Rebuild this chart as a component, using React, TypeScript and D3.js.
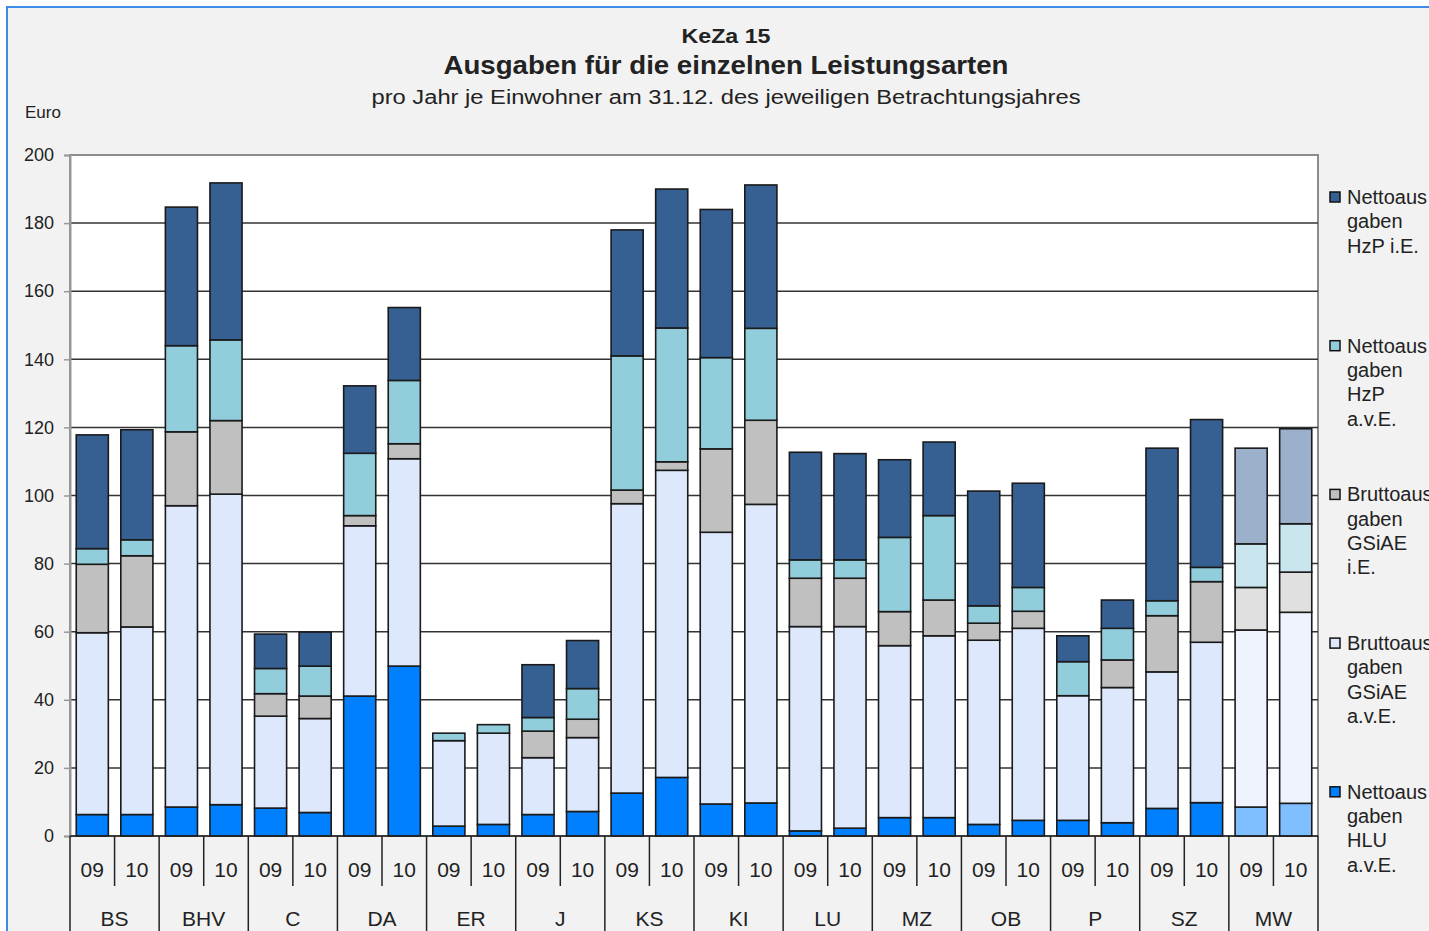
import React, { useEffect, useRef } from 'react';
import * as d3 from 'd3';

const groups = ['BS', 'BHV', 'C', 'DA', 'ER', 'J', 'KS', 'KI', 'LU', 'MZ', 'OB', 'P', 'SZ', 'MW'];
const years = ['09', '10'];

// one value per bar: BS09, BS10, BHV09, BHV10, ...
const hluAve = [6.3, 6.3, 8.5, 9.2, 8.2, 6.9, 41.1, 49.9, 2.9, 3.4, 6.3, 7.2, 12.6, 17.2, 9.4, 9.7, 1.5, 2.3, 5.4, 5.4, 3.4, 4.6, 4.6, 3.9, 8.1, 9.8, 8.5, 9.6];
const gsiaeAve = [53.4, 55.1, 88.5, 91.2, 27, 27.6, 50, 60.9, 25.1, 26.8, 16.7, 21.7, 85, 90.2, 79.8, 87.7, 60, 59.2, 50.5, 53.4, 54.1, 56.4, 36.6, 39.7, 40.1, 47.1, 52, 56.1];
const gsiaeIe = [20.1, 20.9, 21.7, 21.6, 6.6, 6.6, 3, 4.4, 0, 0, 7.8, 5.4, 4, 2.5, 24.5, 24.7, 14.2, 14.2, 10, 10.5, 5, 5, 0, 8.1, 16.5, 17.8, 12.5, 11.8];
const hzpAve = [4.6, 4.7, 25.3, 23.7, 7.4, 8.8, 18.3, 18.6, 2.2, 2.5, 4, 9, 39.4, 39.3, 26.8, 27, 5.4, 5.4, 21.8, 24.8, 5.1, 7, 10, 9.3, 4.4, 4.2, 12.8, 14.2];
const hzpIe = [33.4, 32.3, 40.7, 46.1, 10.1, 10, 19.8, 21.4, 0, 0, 15.5, 14.1, 37, 40.8, 43.5, 42.1, 31.6, 31.2, 22.8, 21.6, 33.7, 30.6, 7.6, 8.3, 44.8, 43.4, 28.1, 27.9];

const yTicks = [0, 20, 40, 60, 80, 100, 120, 140, 160, 180, 200];

const seriesKeys = ['hluAve', 'gsiaeAve', 'gsiaeIe', 'hzpAve', 'hzpIe'];
const colors = ['#0080ff', '#dde8fc', '#c0c0c0', '#92cddc', '#366092'];
const colorsMW = ['#80bfff', '#eef3fd', '#e0e0e0', '#c9e6ee', '#9bb0cb'];

const legendItems = [
  { color: '#366092', lines: ['Nettoaus', 'gaben', 'HzP i.E.'] },
  { color: '#92cddc', lines: ['Nettoaus', 'gaben', 'HzP', 'a.v.E.'] },
  { color: '#c0c0c0', lines: ['Bruttoaus', 'gaben', 'GSiAE', 'i.E.'] },
  { color: '#dde8fc', lines: ['Bruttoaus', 'gaben', 'GSiAE', 'a.v.E.'] },
  { color: '#0080ff', lines: ['Nettoaus', 'gaben', 'HLU', 'a.v.E.'] },
];

const FONT = '"Liberation Sans", Arial, sans-serif';

const App = () => {
  const svgRef = useRef<SVGSVGElement>(null);

  useEffect(() => {
    const svg = d3.select(svgRef.current);
    svg.selectAll('*').remove();

    const width = 1429;
    const height = 931;
    const margin = { top: 155, right: 111, bottom: 95, left: 70 };
    const x0 = margin.left;
    const x1 = width - margin.right;
    const yBottom = height - margin.bottom;

    // chart frame
    svg.append('rect')
      .attr('x', 7).attr('y', 7)
      .attr('width', 1500).attr('height', 1000)
      .attr('fill', '#f2f2f2')
      .attr('stroke', '#3c8ce7')
      .attr('stroke-width', 2);

    // titles
    const titles = [
      { text: 'KeZa 15', y: 43, size: 20, weight: 'bold', len: 89 },
      { text: 'Ausgaben für die einzelnen Leistungsarten', y: 74, size: 25, weight: 'bold', len: 565 },
      { text: 'pro Jahr je Einwohner am 31.12. des jeweiligen Betrachtungsjahres', y: 104, size: 20, weight: 'normal', len: 709 },
    ];
    titles.forEach(t => {
      svg.append('text')
        .attr('x', 726).attr('y', t.y)
        .attr('text-anchor', 'middle')
        .attr('font-family', FONT)
        .attr('font-size', t.size)
        .attr('font-weight', t.weight)
        .attr('fill', '#222')
        .attr('textLength', t.len)
        .attr('lengthAdjust', 'spacingAndGlyphs')
        .text(t.text);
    });

    svg.append('text')
      .attr('x', 25).attr('y', 118)
      .attr('font-family', FONT).attr('font-size', 17)
      .attr('fill', '#222')
      .text('Euro');

    const y = d3.scaleLinear().domain([0, 200]).range([yBottom, margin.top]);
    const xGroup = d3.scaleBand().domain(groups).range([x0, x1]);
    const xYear = d3.scaleBand().domain(years).range([0, xGroup.bandwidth()]).paddingInner(0.28).paddingOuter(0.14);

    // plot background
    svg.append('rect')
      .attr('x', x0).attr('y', margin.top)
      .attr('width', x1 - x0).attr('height', yBottom - margin.top)
      .attr('fill', '#fff')
      .attr('stroke', '#8c8c8c')
      .attr('stroke-width', 2);

    // gridlines
    svg.append('g')
      .selectAll('line')
      .data(yTicks.filter(d => d > 0 && d < 200))
      .join('line')
      .attr('x1', x0).attr('x2', x1)
      .attr('y1', d => y(d)).attr('y2', d => y(d))
      .attr('stroke', '#333')
      .attr('stroke-width', 1.5);

    // y axis
    const yAxis = svg.append('g')
      .attr('transform', `translate(${x0},0)`)
      .call(d3.axisLeft(y).tickValues(yTicks).tickSize(6).tickPadding(10));
    yAxis.select('.domain').attr('stroke', '#999').attr('stroke-width', 2);
    yAxis.selectAll('.tick line').attr('stroke', '#999').attr('stroke-width', 1.5);
    yAxis.selectAll('text')
      .attr('font-family', FONT)
      .attr('font-size', 18)
      .attr('fill', '#222');

    // stacked bars
    const rows = [];
    groups.forEach((g, gi) => {
      years.forEach((yr, yi) => {
        const i = gi * 2 + yi;
        rows.push({
          group: g, year: yr,
          hluAve: hluAve[i], gsiaeAve: gsiaeAve[i], gsiaeIe: gsiaeIe[i],
          hzpAve: hzpAve[i], hzpIe: hzpIe[i],
        });
      });
    });
    const stacked = d3.stack().keys(seriesKeys)(rows);

    stacked.forEach((layer, li) => {
      svg.append('g')
        .selectAll('rect')
        .data(layer.filter(d => d[1] - d[0] > 0))
        .join('rect')
        .attr('x', d => xGroup(d.data.group) + xYear(d.data.year))
        .attr('width', xYear.bandwidth())
        .attr('y', d => y(d[1]))
        .attr('height', d => y(d[0]) - y(d[1]))
        .attr('fill', d => (d.data.group === 'MW' ? colorsMW[li] : colors[li]))
        .attr('stroke', '#1a1a1a')
        .attr('stroke-width', 1.6);
    });

    // category axis (two levels)
    const catAxis = svg.append('g');
    catAxis.append('line')
      .attr('x1', x0).attr('x2', x1)
      .attr('y1', yBottom).attr('y2', yBottom)
      .attr('stroke', '#222').attr('stroke-width', 1.5);

    const bounds = groups.map(g => xGroup(g)).concat([x1]);
    catAxis.selectAll('line.sep')
      .data(bounds)
      .join('line')
      .attr('class', 'sep')
      .attr('x1', d => d).attr('x2', d => d)
      .attr('y1', yBottom).attr('y2', height + 10)
      .attr('stroke', '#222').attr('stroke-width', 1.5);

    catAxis.selectAll('line.mid')
      .data(groups)
      .join('line')
      .attr('class', 'mid')
      .attr('x1', d => xGroup(d) + xGroup.bandwidth() / 2)
      .attr('x2', d => xGroup(d) + xGroup.bandwidth() / 2)
      .attr('y1', yBottom).attr('y2', yBottom + 50)
      .attr('stroke', '#222').attr('stroke-width', 1.5);

    catAxis.selectAll('text.year')
      .data(rows)
      .join('text')
      .attr('class', 'year')
      .attr('x', d => xGroup(d.group) + xYear(d.year) + xYear.bandwidth() / 2)
      .attr('y', yBottom + 41)
      .attr('text-anchor', 'middle')
      .attr('font-family', FONT).attr('font-size', 21)
      .attr('fill', '#222')
      .text(d => d.year);

    catAxis.selectAll('text.group')
      .data(groups)
      .join('text')
      .attr('class', 'group')
      .attr('x', d => xGroup(d) + xGroup.bandwidth() / 2)
      .attr('y', yBottom + 90)
      .attr('text-anchor', 'middle')
      .attr('font-family', FONT).attr('font-size', 21)
      .attr('fill', '#222')
      .text(d => d);

    // legend
    const lineH = 24.3;
    const legend = svg.append('g').attr('transform', `translate(1330,0)`);
    legendItems.forEach((item, i) => {
      const top = 197 + i * 148.7;
      legend.append('rect')
        .attr('x', 0).attr('y', top - 5)
        .attr('width', 10).attr('height', 10)
        .attr('fill', item.color)
        .attr('stroke', '#111').attr('stroke-width', 1.5);
      item.lines.forEach((ln, k) => {
        legend.append('text')
          .attr('x', 17)
          .attr('y', top + 7 + k * lineH)
          .attr('font-family', FONT).attr('font-size', 20)
          .attr('fill', '#222')
          .text(ln);
      });
    });
  }, []);

  return (
    <svg
      ref={svgRef}
      width={1429}
      height={931}
      style={{ position: 'absolute', left: 0, top: 0, background: '#fff' }}
    />
  );
};

export default App;
